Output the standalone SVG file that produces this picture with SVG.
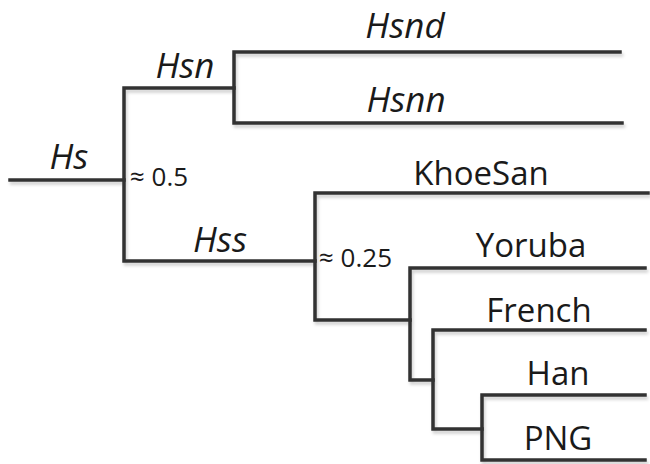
<svg xmlns="http://www.w3.org/2000/svg" width="650" height="464" viewBox="0 0 650 464">
<defs>
<filter id="sh" x="-10%" y="-10%" width="120%" height="140%">
<feDropShadow dx="1.5" dy="3" stdDeviation="1.5" flood-color="#000" flood-opacity="0.18"/>
</filter>
<style>
.e{fill:none;stroke:#333;stroke-width:3.5;stroke-linecap:square;stroke-linejoin:miter}
.t{font-family:"Open Sans","Liberation Sans",sans-serif;font-size:33px;fill:#1a1a1a;text-anchor:middle}
.i{font-style:italic;font-size:35px}
.n{font-family:"Open Sans","Liberation Sans",sans-serif;font-size:26px;fill:#1a1a1a}
</style>
</defs>
<rect width="650" height="464" fill="#fff"/>
<g id="connectors" filter="url(#sh)">
<path class="e" d="M10,180 H124"/>
<path class="e" d="M234,88 H124 V261 H315"/>
<path class="e" d="M620,52 H234 V123 H622"/>
<path class="e" d="M648,193 H315 V320 H410"/>
<path class="e" d="M645,268 H410 V380 H433"/>
<path class="e" d="M645,330 H433 V429 H482"/>
<path class="e" d="M645,395 H482 V460 H645"/>
</g>
<g id="node-Hs"><text class="t i" x="69" y="169">Hs</text></g>
<g id="node-Hsn"><text class="t i" x="185" y="78">Hsn</text></g>
<g id="node-Hss"><text class="t i" x="220" y="252">Hss</text></g>
<g id="node-Hsnd"><text class="t i" x="405" y="38">Hsnd</text></g>
<g id="node-Hsnn"><text class="t i" x="406" y="112">Hsnn</text></g>
<g id="node-KhoeSan"><text class="t" x="481" y="185">KhoeSan</text></g>
<g id="node-Yoruba"><text class="t" x="531" y="257">Yoruba</text></g>
<g id="node-French"><text class="t" x="539" y="322">French</text></g>
<g id="node-Han"><text class="t" x="558" y="385">Han</text></g>
<g id="node-PNG"><text class="t" x="558" y="450">PNG</text></g>
<g id="label-05"><text class="n" x="130" y="186">≈ 0.5</text></g>
<g id="label-025"><text class="n" x="319" y="267">≈ 0.25</text></g>
</svg>
